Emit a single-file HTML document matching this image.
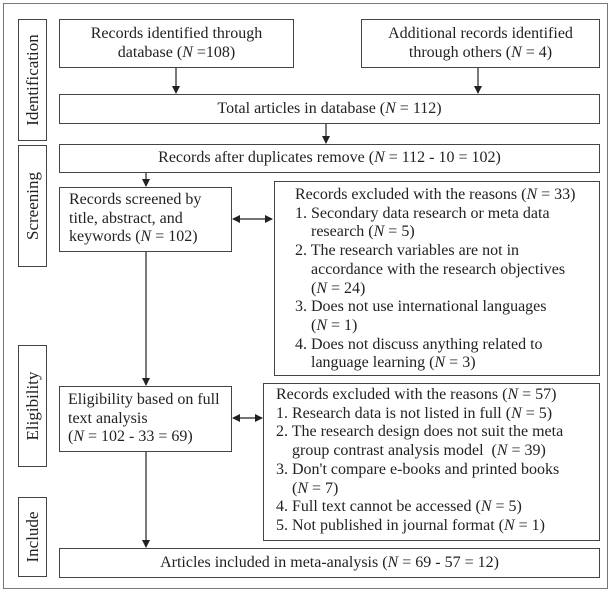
<!DOCTYPE html>
<html><head><style>
body{margin:0;background:#fff;}
#c{position:relative;width:612px;height:592px;font-family:"Liberation Serif","Times New Roman",Times,"DejaVu Serif",serif;font-size:16px;color:#222;}
.b{position:absolute;border:1.3px solid #444;box-sizing:border-box;background:#fff;}
.t{position:absolute;line-height:18.7px;white-space:nowrap;}
.c{text-align:center;}
.lab{position:absolute;border:1.3px solid #444;box-sizing:border-box;}
.lab span{position:absolute;left:50%;top:50%;transform:translate(-50%,-50%) rotate(-90deg);white-space:nowrap;font-size:17px;}
i{font-style:italic;}
</style></head><body><div id="c">
<div class="b" style="left:3px;top:3px;width:605px;height:586px;border-color:#777"></div>
<div class="lab" style="left:18px;top:19px;width:29px;height:122px"><span>Identification</span></div>
<div class="lab" style="left:18px;top:145px;width:29px;height:122px"><span>Screening</span></div>
<div class="lab" style="left:18px;top:345px;width:29px;height:122px"><span>Eligibility</span></div>
<div class="lab" style="left:18px;top:497px;width:29px;height:80px"><span>Include</span></div>

<div class="b t c" style="left:59px;top:19px;width:235px;height:49px;padding-top:5px">Records identified through<br>database (<i>N</i> =108)</div>
<div class="b t c" style="left:361px;top:19px;width:239px;height:49px;padding-top:5px">Additional records identified<br>through others (<i>N</i> = 4)</div>
<div class="b t c" style="left:59px;top:94px;width:541px;height:30px;padding-top:5px">Total articles in database (<i>N</i> = 112)</div>
<div class="b t c" style="left:59px;top:144px;width:541px;height:29px;padding-top:4px">Records after duplicates remove (<i>N</i> = 112 - 10 = 102)</div>
<div class="b t" style="left:59px;top:187px;width:173px;height:65px;padding:3px 0 0 9px">Records screened by<br>title, abstract, and<br>keywords (<i>N</i> = 102)</div>
<div class="b t" style="left:274px;top:181px;width:326px;height:195px;padding:4px 0 0 20px">Records excluded with the reasons (<i>N</i> = 33)<br>1. Secondary data research or meta data<br>&nbsp;&nbsp;&nbsp;&nbsp;research (<i>N</i> = 5)<br>2. The research variables are not in<br>&nbsp;&nbsp;&nbsp;&nbsp;accordance with the research objectives<br>&nbsp;&nbsp;&nbsp;&nbsp;(<i>N</i> = 24)<br>3. Does not use international languages<br>&nbsp;&nbsp;&nbsp;&nbsp;(<i>N</i> = 1)<br>4. Does not discuss anything related to<br>&nbsp;&nbsp;&nbsp;&nbsp;language learning (<i>N</i> = 3)</div>
<div class="b t" style="left:59px;top:386px;width:173px;height:66px;padding:4px 0 0 8px">Eligibility based on full<br>text analysis<br>(<i>N</i> = 102 - 33 = 69)</div>
<div class="b t" style="left:263px;top:383px;width:337px;height:158px;padding:2px 0 0 12px">Records excluded with the reasons (<i>N</i> = 57)<br>1. Research data is not listed in full (<i>N</i> = 5)<br>2. The research design does not suit the meta<br>&nbsp;&nbsp;&nbsp;&nbsp;group contrast analysis model &nbsp;(<i>N</i> = 39)<br>3. Don't compare e-books and printed books<br>&nbsp;&nbsp;&nbsp;&nbsp;(<i>N</i> = 7)<br>4. Full text cannot be accessed (<i>N</i> = 5)<br>5. Not published in journal format (<i>N</i> = 1)</div>
<div class="b t c" style="left:59px;top:548px;width:541px;height:30px;padding-top:5px">Articles included in meta-analysis (<i>N</i> = 69 - 57 = 12)</div>

<svg width="612" height="592" style="position:absolute;left:0;top:0">
<defs><marker id="a" markerWidth="8" markerHeight="8" refX="7" refY="4" orient="auto-start-reverse" markerUnits="userSpaceOnUse"><path d="M0,0L8,4L0,8z" fill="#222"/></marker></defs>
<g stroke="#222" stroke-width="1.2" fill="none">
<line x1="176" y1="68" x2="176" y2="93" marker-end="url(#a)"/>
<line x1="478" y1="68" x2="478" y2="93" marker-end="url(#a)"/>
<line x1="326" y1="124" x2="326" y2="143" marker-end="url(#a)"/>
<line x1="146" y1="173" x2="146" y2="186" marker-end="url(#a)"/>
<line x1="146" y1="252" x2="146" y2="385" marker-end="url(#a)"/>
<line x1="146" y1="452" x2="146" y2="547" marker-end="url(#a)"/>
<line x1="233" y1="219" x2="272" y2="219" marker-start="url(#a)" marker-end="url(#a)"/>
<line x1="233" y1="418" x2="262" y2="418" marker-start="url(#a)" marker-end="url(#a)"/>
</g></svg>
</div></body></html>
